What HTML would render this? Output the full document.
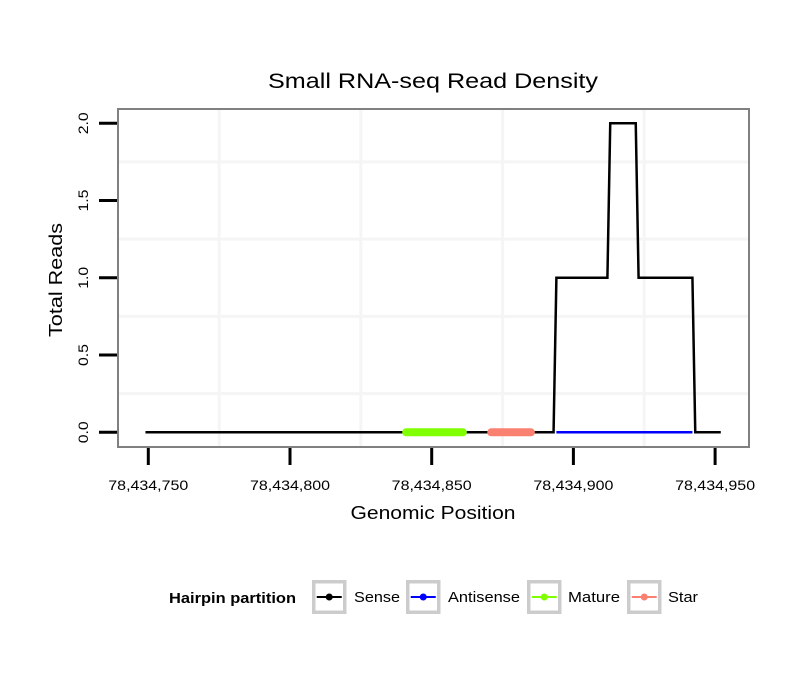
<!DOCTYPE html>
<html><head><meta charset="utf-8"><style>
body{margin:0;background:#fff;}
svg{display:block;font-family:"Liberation Sans",sans-serif;}
</style></head><body>
<svg id="chart" width="810" height="690">
<text x="433" y="88" font-size="21" text-anchor="middle" textLength="330" lengthAdjust="spacingAndGlyphs">Small RNA-seq Read Density</text>
<g id="grid"></g>
<g id="series"></g>
<rect x="118" y="109" width="631" height="338" fill="none" stroke="#808080" stroke-width="2"/>
<g id="axes"></g>
<text x="433" y="519" font-size="18" text-anchor="middle" textLength="165" lengthAdjust="spacingAndGlyphs">Genomic Position</text>
<text transform="translate(62,280) rotate(-90)" font-size="18" text-anchor="middle" textLength="114" lengthAdjust="spacingAndGlyphs">Total Reads</text>
<g>
<text x="169" y="603" font-size="15" font-weight="bold" textLength="127" lengthAdjust="spacingAndGlyphs">Hairpin partition</text>
<g id="legend"></g>
</g>
</svg>
<script>
const senseX=[78434749,78434893,78434894,78434912,78434913,78434922,78434923,78434942,78434943,78434952];
const senseY=[0,0,1,1,2,2,1,1,0,0];
const antisenseRange=[78434894,78434942];
const matureRange=[78434841,78434861];
const starRange=[78434871,78434885];
const xTicks=[78434750,78434800,78434850,78434900,78434950];
const xTickLabels=["78,434,750","78,434,800","78,434,850","78,434,900","78,434,950"];
const yTicks=[0,0.5,1,1.5,2];
const yTickLabels=["0.0","0.5","1.0","1.5","2.0"];
const legendNames=["Sense","Antisense","Mature","Star"];
const legendColors=["#000000","#0000ff","#7fff00","#fa8072"];

const NS="http://www.w3.org/2000/svg";
function sx(v){return 148.3+(v-78434750)*2.834;}
function sy(v){return 432.3-v*154.5;}
function mk(tag,attrs,parent){const e=document.createElementNS(NS,tag);for(const k in attrs)e.setAttribute(k,attrs[k]);parent.appendChild(e);return e;}
const grid=document.getElementById('grid'),series=document.getElementById('series'),axes=document.getElementById('axes'),legend=document.getElementById('legend');

for(let i=0;i<xTicks.length-1;i++){
  const x=sx((xTicks[i]+xTicks[i+1])/2);
  const g=mk('line',{x1:x,x2:x,y1:110,y2:446,stroke:'#f5f5f5','stroke-width':3},grid);
  
  
}
for(let i=0;i<yTicks.length-1;i++){
  const y=sy((yTicks[i]+yTicks[i+1])/2);
  const g=mk('line',{x1:119,x2:748,y1:y,y2:y,stroke:'#f5f5f5','stroke-width':3},grid);
  
  
}

const pts=senseX.map((x,i)=>sx(x)+','+sy(senseY[i])).join(' ');
const sl=mk('polyline',{points:pts,fill:'none',stroke:'#000','stroke-width':2.5},series);


const al=mk('line',{x1:sx(antisenseRange[0]),x2:sx(antisenseRange[1]),y1:sy(0),y2:sy(0),stroke:'#0000ff','stroke-width':2.5},series);


const ml=mk('line',{x1:sx(matureRange[0]),x2:sx(matureRange[1]),y1:sy(0),y2:sy(0),stroke:'#7fff00','stroke-width':8,'stroke-linecap':'round'},series);


const stl=mk('line',{x1:sx(starRange[0]),x2:sx(starRange[1]),y1:sy(0),y2:sy(0),stroke:'#fa8072','stroke-width':8,'stroke-linecap':'round'},series);



xTicks.forEach((v,i)=>{
  const x=sx(v);
  const t=mk('line',{x1:x,x2:x,y1:448,y2:465,stroke:'#000','stroke-width':3},axes);
  
  
  const l=mk('text',{x:x,y:490,'font-size':14,'text-anchor':'middle',textLength:80,lengthAdjust:'spacingAndGlyphs'},axes);
  l.textContent=xTickLabels[i];
  
  
});
yTicks.forEach((v,i)=>{
  const y=sy(v);
  const t=mk('line',{x1:99,x2:117,y1:y,y2:y,stroke:'#000','stroke-width':3},axes);
  
  
  const l=mk('text',{transform:'translate(88,'+y+') rotate(-90)','font-size':14,'text-anchor':'middle',textLength:22,lengthAdjust:'spacingAndGlyphs'},axes);
  l.textContent=yTickLabels[i];
  
  
});

const keyX=[312,406,527,627];
const textX=[354,448,568,668];
const labelLen=[46,72,52,30];
legendNames.forEach((n,i)=>{
  const g=mk('g',{},legend);
  
  
  const x=keyX[i]+1.75;
  mk('rect',{x:x,y:581.75,width:31,height:30.5,fill:'#fff',stroke:'#cccccc','stroke-width':3.5},g);
  mk('line',{x1:x+3,x2:x+28,y1:597,y2:597,stroke:legendColors[i],'stroke-width':2},g);
  mk('circle',{cx:x+15.5,cy:597,r:3.5,fill:legendColors[i]},g);
  const t=mk('text',{x:textX[i],y:602,'font-size':15,textLength:labelLen[i],lengthAdjust:'spacingAndGlyphs'},g);
  t.textContent=n;
});
</script>
</body></html>
